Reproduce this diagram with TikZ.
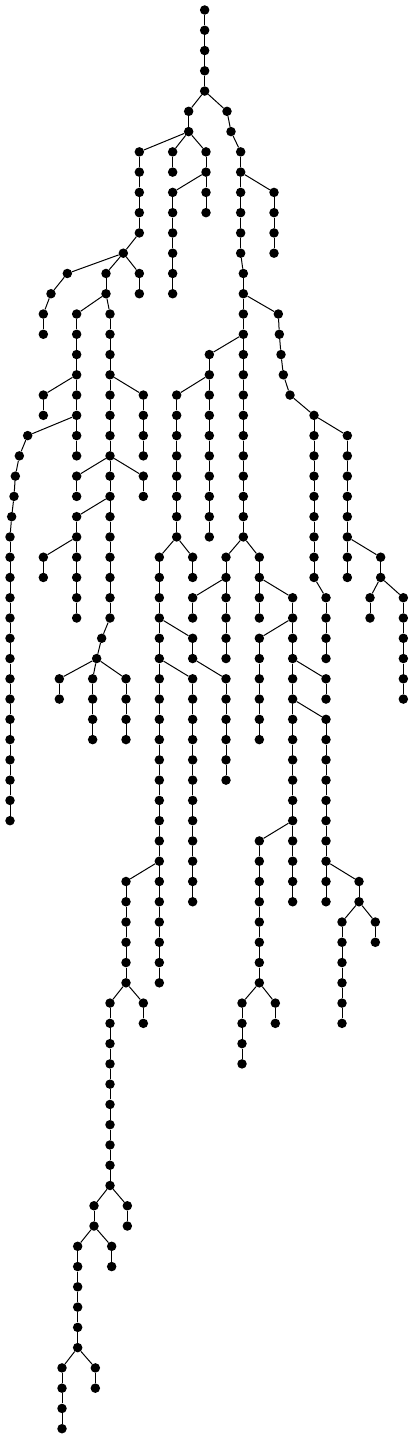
\documentclass[tikz,border=0pt]{standalone}
\tikzset{dot/.style={circle,fill=black,draw=none,minimum size=9.5pt,inner sep=0pt},
  tedgestyle/.style={line width=1pt,black}}
\newcommand{\tchain}[3]{\foreach \l in {#2,...,#3}{\node[dot] (n#1-\l) at ({#1/3},{-10-\l*20.267}) {};\ifnum\l>#2\relax\pgfmathtruncatemacro\p{\l-1}\draw[tedgestyle] (n#1-\p) -- (n#1-\l);\fi}}
\newcommand{\tedge}[2]{\draw[tedgestyle] (n#1) -- (n#2);}
\begin{document}
\begin{tikzpicture}[x=1pt,y=1pt]
\useasboundingbox (0,0) rectangle (414,-1439);
% chains
\tchain{614}{0}{4}
\tchain{566}{5}{6}
\tchain{681}{5}{5}
\tchain{693}{6}{6}
\tchain{418}{7}{11}
\tchain{518}{7}{8}
\tchain{618}{7}{10}
\tchain{722}{7}{12}
\tchain{518}{9}{14}
\tchain{822}{9}{12}
\tchain{370}{12}{12}
\tchain{202}{13}{13}
\tchain{318}{13}{14}
\tchain{418}{13}{14}
\tchain{730}{13}{26}
\tchain{153}{14}{14}
\tchain{130}{15}{16}
\tchain{230}{15}{22}
\tchain{330}{15}{30}
\tchain{835}{15}{15}
\tchain{838}{16}{16}
\tchain{843}{17}{17}
\tchain{850}{18}{18}
\tchain{870}{19}{19}
\tchain{628}{17}{26}
\tchain{130}{19}{20}
\tchain{430}{19}{22}
\tchain{530}{19}{26}
\tchain{942}{20}{28}
\tchain{83}{21}{21}
\tchain{58}{22}{22}
\tchain{46}{23}{23}
\tchain{42}{24}{24}
\tchain{35}{25}{25}
\tchain{30}{26}{40}
\tchain{1042}{21}{28}
\tchain{230}{23}{24}
\tchain{430}{23}{24}
\tchain{230}{25}{30}
\tchain{130}{27}{28}
\tchain{478}{27}{48}
\tchain{578}{27}{28}
\tchain{678}{27}{32}
\tchain{778}{27}{30}
\tchain{1142}{27}{28}
\tchain{578}{29}{30}
\tchain{878}{29}{44}
\tchain{978}{29}{32}
\tchain{1110}{29}{30}
\tchain{1210}{29}{34}
\tchain{305}{31}{31}
\tchain{290}{32}{32}
\tchain{578}{31}{32}
\tchain{778}{31}{36}
\tchain{178}{33}{34}
\tchain{278}{33}{36}
\tchain{378}{33}{36}
\tchain{578}{33}{44}
\tchain{678}{33}{38}
\tchain{978}{33}{34}
\tchain{978}{35}{44}
\tchain{778}{41}{48}
\tchain{378}{43}{48}
\tchain{1077}{43}{44}
\tchain{1026}{45}{50}
\tchain{1126}{45}{46}
\tchain{330}{49}{58}
\tchain{430}{49}{50}
\tchain{726}{49}{52}
\tchain{826}{49}{50}
\tchain{282}{59}{60}
\tchain{382}{59}{60}
\tchain{233}{61}{66}
\tchain{335}{61}{62}
\tchain{186}{67}{70}
\tchain{286}{67}{68}
% branch edges
\tedge{614-4}{566-5}
\tedge{614-4}{681-5}
\tedge{681-5}{693-6}
\tedge{566-6}{418-7}
\tedge{566-6}{518-7}
\tedge{566-6}{618-7}
\tedge{693-6}{722-7}
\tedge{618-8}{518-9}
\tedge{722-8}{822-9}
\tedge{418-11}{370-12}
\tedge{370-12}{202-13}
\tedge{370-12}{318-13}
\tedge{370-12}{418-13}
\tedge{722-12}{730-13}
\tedge{202-13}{153-14}
\tedge{153-14}{130-15}
\tedge{318-14}{230-15}
\tedge{318-14}{330-15}
\tedge{730-14}{835-15}
\tedge{835-15}{838-16}
\tedge{838-16}{843-17}
\tedge{843-17}{850-18}
\tedge{850-18}{870-19}
\tedge{870-19}{942-20}
\tedge{730-16}{628-17}
\tedge{230-18}{130-19}
\tedge{330-18}{430-19}
\tedge{628-18}{530-19}
\tedge{230-20}{83-21}
\tedge{942-20}{1042-21}
\tedge{83-21}{58-22}
\tedge{58-22}{46-23}
\tedge{46-23}{42-24}
\tedge{42-24}{35-25}
\tedge{35-25}{30-26}
\tedge{330-22}{230-23}
\tedge{330-22}{430-23}
\tedge{330-24}{230-25}
\tedge{230-26}{130-27}
\tedge{530-26}{478-27}
\tedge{530-26}{578-27}
\tedge{730-26}{678-27}
\tedge{730-26}{778-27}
\tedge{1042-26}{1142-27}
\tedge{678-28}{578-29}
\tedge{778-28}{878-29}
\tedge{942-28}{978-29}
\tedge{1142-28}{1110-29}
\tedge{1142-28}{1210-29}
\tedge{330-30}{305-31}
\tedge{305-31}{290-32}
\tedge{478-30}{578-31}
\tedge{878-30}{778-31}
\tedge{290-32}{178-33}
\tedge{290-32}{278-33}
\tedge{290-32}{378-33}
\tedge{478-32}{578-33}
\tedge{578-32}{678-33}
\tedge{878-32}{978-33}
\tedge{878-34}{978-35}
\tedge{878-40}{778-41}
\tedge{478-42}{378-43}
\tedge{978-42}{1077-43}
\tedge{1077-44}{1026-45}
\tedge{1077-44}{1126-45}
\tedge{378-48}{330-49}
\tedge{378-48}{430-49}
\tedge{778-48}{726-49}
\tedge{778-48}{826-49}
\tedge{330-58}{282-59}
\tedge{330-58}{382-59}
\tedge{282-60}{233-61}
\tedge{282-60}{335-61}
\tedge{233-66}{186-67}
\tedge{233-66}{286-67}
\end{tikzpicture}
\end{document}
